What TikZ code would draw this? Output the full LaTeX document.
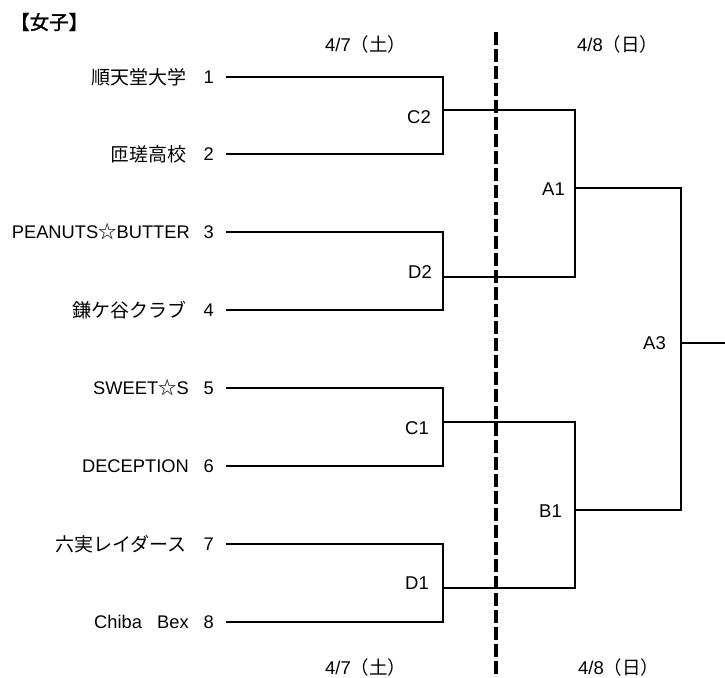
\documentclass[tikz,border=0pt]{standalone}
\usepackage{fontspec}
\setmainfont{Liberation Sans}
\newfontfamily\cjk{Noto Sans CJK JP}
\newfontfamily\cjkheavy[FakeBold=1.5]{Noto Sans CJK JP}
\newcommand\teamsize{\fontsize{18.3}{21}\selectfont}
\newcommand\kanasize{\fontsize{19}{21}\selectfont}
\newcommand\gamesize{\fontsize{18.5}{21}\selectfont}
\usetikzlibrary{calc}

\begin{document}
\begin{tikzpicture}[x=1pt,y=-1pt,
    team/.style={anchor=east,inner sep=0pt,font=\teamsize},
    seed/.style={anchor=east,inner sep=0pt,font=\teamsize},
    game/.style={anchor=east,inner sep=0pt,font=\gamesize},
    day/.style={anchor=west,inner sep=0pt,font=\gamesize},
    bracket/.style={line width=1.4pt},
    divider/.style={line width=4pt,dash pattern=on 13pt off 4pt}]
  \useasboundingbox (0,0) rectangle (725,677);
  \node[anchor=west,inner sep=0pt,font=\fontsize{19.5}{22}\selectfont] (title) at (10,22) {\cjkheavy 【女子】};
  % dates
  \node[day] (sat1) at (325,44) {4/7{\cjk （土）}};
  \node[day] (sun1) at (577,44) {4/8{\cjk （日）}};
  \node[day] (sat2) at (325,667) {4/7{\cjk （土）}};
  \node[day] (sun2) at (578,667) {4/8{\cjk （日）}};
  \coordinate (top) at (496,32);
  \coordinate (bot) at (496,677);
  \draw[divider] (top) -- (bot);
  % teams
  \node[team,font=\kanasize] (t1) at (187,77) {\cjk 順天堂大学};
  \node[team,font=\kanasize] (t2) at (187,154) {\cjk 匝瑳高校};
  \node[team] (t3) at (190,232) {PEANUTS{\cjk ☆}BUTTER};
  \node[team,font=\kanasize] (t4) at (187,310) {\cjk 鎌ケ谷クラブ};
  \node[team] (t5) at (189,388) {SWEET{\cjk ☆}S};
  \node[team] (t6) at (189,466) {DECEPTION};
  \node[team,font=\kanasize] (t7) at (187,544) {\cjk 六実レイダース};
  \node[team] (t8) at (189,622) {Chiba\ \ \ Bex};
  \foreach \i/\y in {1/77,2/154,3/232,4/310,5/388,6/466,7/544,8/622}{
    \node[seed] (k\i) at (214,\y) {\i};
    \coordinate (s\i) at (226,\y);
  }
  % first day
  \coordinate (c2) at (443,110);
  \coordinate (d2) at (443,277);
  \coordinate (c1) at (443,422);
  \coordinate (d1) at (443,588);
  \draw[bracket] (s1) -| (c2) |- (s2);
  \draw[bracket] (s3) -| (d2) |- (s4);
  \draw[bracket] (s5) -| (c1) |- (s6);
  \draw[bracket] (s7) -| (d1) |- (s8);
  \node[game] (lc2) at (431,117) {C2};
  \node[game] (ld2) at (432,272) {D2};
  \node[game] (lc1) at (429,428) {C1};
  \node[game] (ld1) at (429,583) {D1};
  % second day
  \coordinate (a1) at (575,188);
  \coordinate (b1) at (575,510);
  \coordinate (a3) at (681,343);
  \coordinate (fin) at (725,343);
  \draw[bracket] (c2) -| (a1) |- (d2);
  \draw[bracket] (c1) -| (b1) |- (d1);
  \draw[bracket] (a1) -| (a3) |- (b1);
  \draw[bracket] (a3) -- (fin);
  \node[game] (la1) at (565,189) {A1};
  \node[game] (lb1) at (562,511) {B1};
  \node[game] (la3) at (666,343) {A3};
\end{tikzpicture}
\end{document}
